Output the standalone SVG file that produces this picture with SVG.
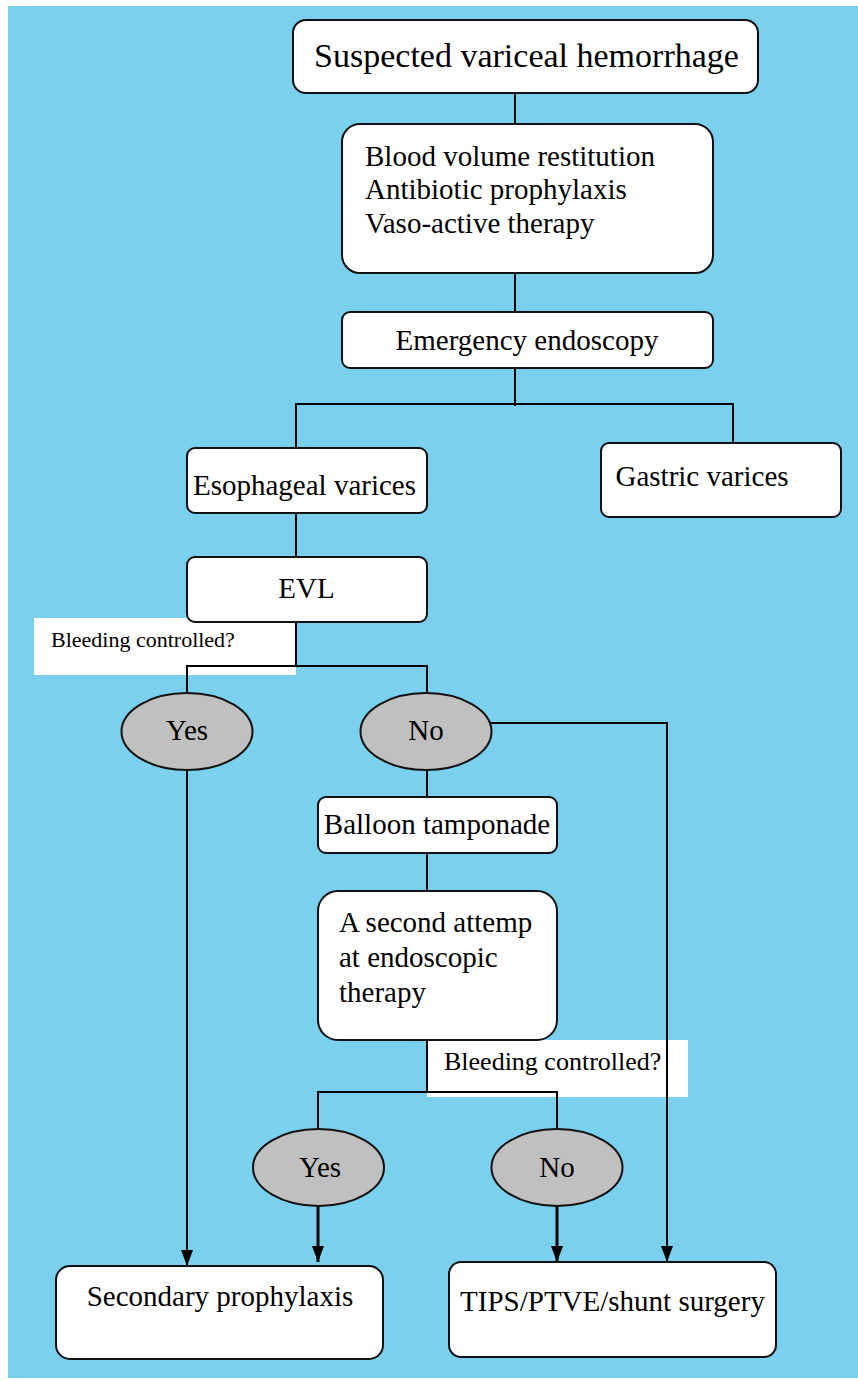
<svg xmlns="http://www.w3.org/2000/svg" width="858" height="1380" viewBox="0 0 858 1380">
<defs>
<style>
.box{fill:#fff;stroke:#111;stroke-width:2}
.ell{fill:#c0c0c0;stroke:#111;stroke-width:2}
.t{font-family:"Liberation Serif","Times New Roman",serif;font-size:29px;fill:#000}
.c{text-anchor:middle}
.ln{fill:none;stroke:#000;stroke-width:2}
.lt{fill:none;stroke:#000;stroke-width:3}
.lab{fill:#fff}
</style>
<marker id="ah" viewBox="0 0 16 12" refX="16" refY="6" markerWidth="16" markerHeight="12" markerUnits="userSpaceOnUse" orient="auto">
<path d="M0,0 L16,6 L0,12 Z" fill="#000"/>
</marker>
</defs>
<rect x="8" y="6" width="850" height="1372" fill="#7bd0ee"/>
<g id="label1"><rect class="lab" x="34" y="618" width="262" height="57"/><text class="t" x="51" y="647" style="font-size:22px">Bleeding controlled?</text></g>
<g id="label2"><rect class="lab" x="427" y="1040" width="261" height="57"/><text class="t" x="444" y="1070" style="font-size:26px">Bleeding controlled?</text></g>
<g id="connectors">
<path class="ln" d="M515,93 V124"/>
<path class="ln" d="M515,273 V312"/>
<path class="ln" d="M515,368 V406"/>
<path class="ln" d="M296,448 V404 H733 V443"/>
<path class="ln" d="M296,513 V557"/>
<path class="ln" d="M296,622 V666"/>
<path class="ln" d="M187,693 V666 H427 V693"/>
<path class="ln" d="M187,770 V1266" marker-end="url(#ah)"/>
<path class="ln" d="M490,723 H667 V1262" marker-end="url(#ah)"/>
<path class="ln" d="M427,770 V797"/>
<path class="ln" d="M427,853 V891"/>
<path class="ln" d="M427,1040 V1092"/>
<path class="ln" d="M318,1129 V1092 H557 V1129"/>
<path class="lt" d="M318,1206 V1262" marker-end="url(#ah)"/>
<path class="lt" d="M557,1206 V1262" marker-end="url(#ah)"/>
</g>
<g id="n1"><rect class="box" x="293" y="20" width="465" height="73" rx="13"/><text class="t c" x="526.5" y="67" style="font-size:34px">Suspected variceal hemorrhage</text></g>
<g id="n2"><rect class="box" x="342" y="124" width="371" height="149" rx="18"/><text class="t" x="365" y="166">Blood volume restitution</text><text class="t" x="365" y="199">Antibiotic prophylaxis</text><text class="t" x="365" y="233">Vaso-active therapy</text></g>
<g id="n3"><rect class="box" x="342" y="312" width="371" height="56" rx="8"/><text class="t c" x="527" y="350">Emergency endoscopy</text></g>
<g id="n4"><rect class="box" x="187" y="448" width="240" height="65" rx="8"/><text class="t c" x="304.5" y="495">Esophageal varices</text></g>
<g id="n5"><rect class="box" x="601" y="443" width="240" height="74" rx="8"/><text class="t" x="615.5" y="486">Gastric varices</text></g>
<g id="n6"><rect class="box" x="187" y="557" width="240" height="65" rx="8"/><text class="t c" x="306.5" y="598">EVL</text></g>
<g id="n7"><ellipse class="ell" cx="187" cy="731.5" rx="65.5" ry="38.5"/><text class="t c" x="187" y="740">Yes</text></g>
<g id="n8"><ellipse class="ell" cx="426" cy="731.5" rx="65.5" ry="38.5"/><text class="t c" x="426" y="740">No</text></g>
<g id="n9"><rect class="box" x="318" y="797" width="239" height="56" rx="8"/><text class="t c" x="437" y="834">Balloon tamponade</text></g>
<g id="n10"><rect class="box" x="318" y="891" width="239" height="149" rx="20"/><text class="t" x="339" y="932">A second attemp</text><text class="t" x="339" y="967">at endoscopic</text><text class="t" x="339" y="1002">therapy</text></g>
<g id="n11"><ellipse class="ell" cx="318.5" cy="1167.5" rx="65.5" ry="38.5"/><text class="t c" x="320" y="1177">Yes</text></g>
<g id="n12"><ellipse class="ell" cx="557" cy="1167.5" rx="65.5" ry="38.5"/><text class="t c" x="557" y="1177">No</text></g>
<g id="n13"><rect class="box" x="56" y="1266" width="327" height="93" rx="14"/><text class="t c" x="220" y="1306">Secondary prophylaxis</text></g>
<g id="n14"><rect class="box" x="449" y="1262" width="327" height="95" rx="12"/><text class="t c" x="612.5" y="1311">TIPS/PTVE/shunt surgery</text></g>
</svg>
